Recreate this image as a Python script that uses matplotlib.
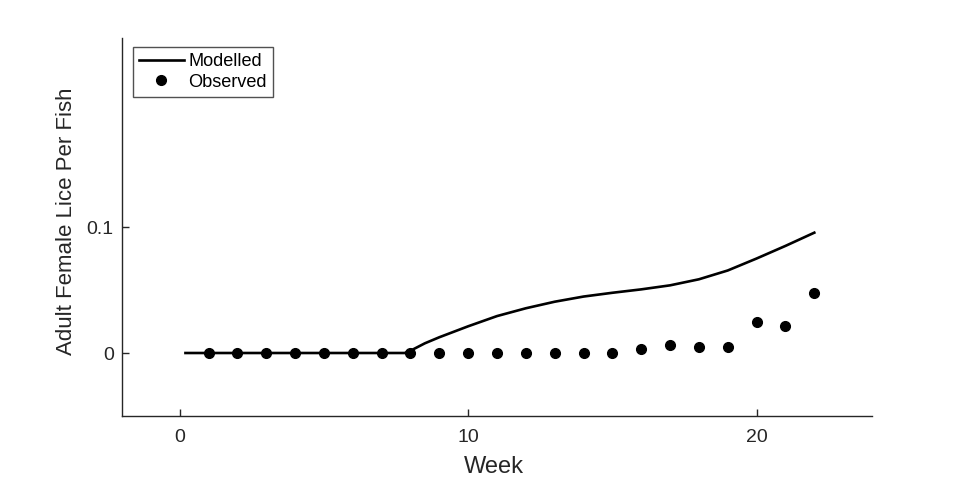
import matplotlib
matplotlib.use("Agg")
import matplotlib.pyplot as plt

# Modelled curve (week, adult female lice per fish)
model_weeks = [0.2, 7.8, 8, 8.5, 9, 10, 11, 12, 13, 14, 15, 16, 17, 18, 19, 20, 21, 22]
model_vals = [0, 0, 0.0018, 0.0077, 0.0125, 0.0212, 0.0293, 0.0355, 0.0407, 0.0448,
              0.0478, 0.0505, 0.0537, 0.0585, 0.0655, 0.075, 0.085, 0.0955]

# Observed data
obs_weeks = list(range(1, 23))
obs_vals = [0, 0, 0, 0, 0, 0, 0, 0, 0, 0, 0, 0, 0, 0, 0,
            0.003, 0.0065, 0.0045, 0.0045, 0.0249, 0.0217, 0.0479]

x_ticks = [0, 10, 20]
y_ticks = [0, 0.1]
y_tick_labels = ["0", "0.1"]

plt.rcParams['font.family'] = ['Liberation Sans', 'DejaVu Sans']
ax_col = '#262626'

fig = plt.figure(figsize=(9.6, 4.8), dpi=100)
ax = fig.add_axes([122/960, 1 - 416/480, (872-122)/960, (416-38)/480])

ax.plot(model_weeks, model_vals, color='black', lw=1.9, label='Modelled',
        solid_joinstyle='round')
ax.plot(obs_weeks, obs_vals, 'o', color='black', ms=7, label='Observed')

ax.set_xlim(-2, 24)
ax.set_ylim(-0.05, 0.25)
ax.set_xticks(x_ticks)
ax.set_yticks(y_ticks)
ax.set_yticklabels(y_tick_labels)

for s in ['top', 'right']:
    ax.spines[s].set_visible(False)
for s in ['left', 'bottom']:
    ax.spines[s].set_color(ax_col)
    ax.spines[s].set_linewidth(1.0)
ax.tick_params(direction='in', length=5, width=1.0, color=ax_col,
               labelcolor=ax_col, labelsize=14)
ax.tick_params(axis='x', pad=9)
ax.tick_params(axis='y', pad=6)

ax.set_xlabel('Week', fontsize=17, color=ax_col)
ax.set_ylabel('Adult Female Lice Per Fish', fontsize=16, color=ax_col)
ax.xaxis.set_label_coords((494-122)/750, (416-467)/378)
ax.yaxis.set_label_coords((67-122)/750, (416-221.5)/378)
ax.xaxis.label.set_va('center')
ax.yaxis.label.set_va('center')

leg = ax.legend(loc='upper left', bbox_to_anchor=(11/750, 1 - 9/378), fontsize=13.1,
                frameon=True, fancybox=False, edgecolor=ax_col, handlelength=2.45,
                handletextpad=0.25, borderpad=0.33, labelspacing=0.2, borderaxespad=0)
leg.get_frame().set_linewidth(1.0)

fig.savefig('out.png', dpi=100)
